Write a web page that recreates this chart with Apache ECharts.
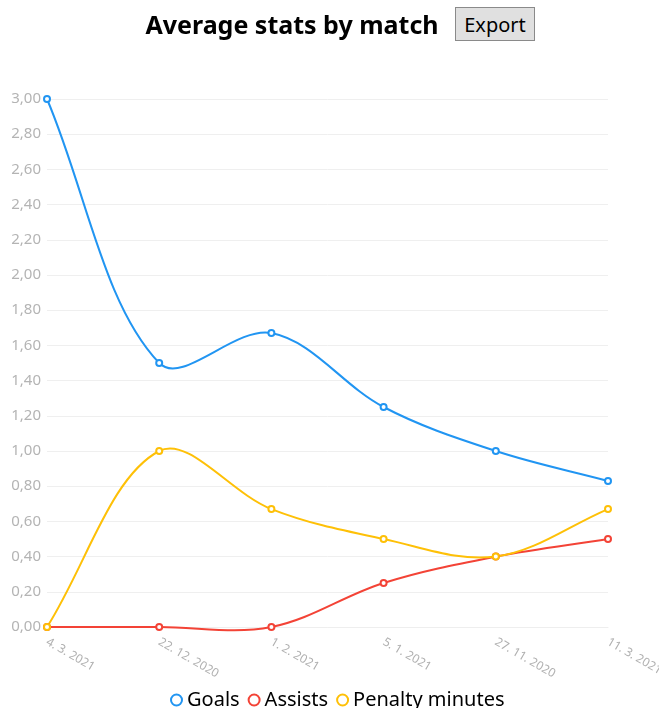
<!DOCTYPE html>
<html lang="en">
<head>
    <meta charset="UTF-8">
    <title>Average stats by match</title>
    <style>
        body { margin: 0; font-family: "Noto Sans", sans-serif; }
        #main { width: 659px; height: 708px; }
        #export {
            position: absolute; left: 455px; top: 7px; width: 80px; height: 34px;
            background: #e0e0e0; border: 1px solid #8a8a8a; border-radius: 0;
            font-family: "Noto Sans", sans-serif; font-size: 20px; color: #000; padding: 0;
        }
    </style>
</head>
<body>
    <div id="main"></div>
    <button id="export">Export</button>
    <script src="https://cdn.jsdelivr.net/npm/echarts@6/dist/echarts.min.js"></script>
    <script type="text/javascript">
        var dates = ['4. 3. 2021', '22. 12. 2020', '1. 2. 2021', '5. 1. 2021', '27. 11. 2020', '11. 3. 2021'];
        var goals = [3.00, 1.50, 1.67, 1.25, 1.00, 0.83];
        var assists = [0.00, 0.00, 0.00, 0.25, 0.40, 0.50];
        var penaltyMinutes = [0.00, 1.00, 0.67, 0.50, 0.40, 0.67];
        var colors = ['#2195f2', '#f34336', '#fec007'];
        var smoothness = 0.7;

        var myChart = echarts.init(document.getElementById('main'));

        // bezier control points for segment p1 -> p2 (midpoint method, weighted by segment length)
        function bezierCtrl(p0, p1, p2, p3) {
            var xc1 = (p0[0] + p1[0]) / 2, yc1 = (p0[1] + p1[1]) / 2;
            var xc2 = (p1[0] + p2[0]) / 2, yc2 = (p1[1] + p2[1]) / 2;
            var xc3 = (p2[0] + p3[0]) / 2, yc3 = (p2[1] + p3[1]) / 2;
            var len1 = Math.hypot(p1[0] - p0[0], p1[1] - p0[1]);
            var len2 = Math.hypot(p2[0] - p1[0], p2[1] - p1[1]);
            var len3 = Math.hypot(p3[0] - p2[0], p3[1] - p2[1]);
            var k1 = (len1 + len2) ? len1 / (len1 + len2) : 0;
            var k2 = (len2 + len3) ? len2 / (len2 + len3) : 0;
            var xm1 = xc1 + (xc2 - xc1) * k1, ym1 = yc1 + (yc2 - yc1) * k1;
            var xm2 = xc2 + (xc3 - xc2) * k2, ym2 = yc2 + (yc3 - yc2) * k2;
            return [
                p1[0] + (xc2 - xm1) * smoothness, p1[1] + (yc2 - ym1) * smoothness,
                p2[0] + (xc2 - xm2) * smoothness, p2[1] + (yc2 - ym2) * smoothness
            ];
        }

        function curveSeries(name, data, color) {
            return {
                name: name,
                type: 'custom',
                data: data,
                z: 2,
                renderItem: function (params, api) {
                    var i = params.dataIndex;
                    var n = data.length;
                    if (i >= n - 1) return;
                    function pt(k) {
                        k = Math.max(0, Math.min(n - 1, k));
                        return api.coord([k, data[k]]);
                    }
                    var p1 = pt(i), p2 = pt(i + 1);
                    var c = bezierCtrl(pt(i - 1), p1, p2, pt(i + 2));
                    return {
                        type: 'bezierCurve',
                        shape: {
                            x1: p1[0], y1: p1[1], x2: p2[0], y2: p2[1],
                            cpx1: c[0], cpy1: c[1], cpx2: c[2], cpy2: c[3]
                        },
                        style: { stroke: color, lineWidth: 2, fill: null }
                    };
                }
            };
        }

        function pointSeries(name, data) {
            return {
                name: name,
                type: 'line',
                symbol: 'emptyCircle',
                symbolSize: 6,
                z: 3,
                lineStyle: { width: 0, opacity: 0 },
                data: data
            };
        }

        var option = {
            animation: false,
            color: colors,
            title: {
                text: 'Average stats by match',
                left: 287,
                textAlign: 'center',
                top: 9,
                textStyle: { fontFamily: 'Noto Sans', fontSize: 25, fontWeight: 'bold', color: '#000' }
            },
            legend: {
                top: 685,
                left: 165,
                icon: 'emptyCircle',
                itemWidth: 11,
                itemHeight: 11,
                itemGap: 8,
                itemStyle: { borderWidth: 2 },
                textStyle: { fontFamily: 'Noto Sans', fontSize: 20, color: '#000' },
                data: ['Goals', 'Assists', 'Penalty minutes']
            },
            grid: { left: 47, right: 51, top: 99, bottom: 81, containLabel: false, outerBoundsMode: 'none' },
            xAxis: {
                type: 'category',
                boundaryGap: false,
                data: dates,
                axisLine: { show: true, lineStyle: { color: '#eeeeee' } },
                axisTick: { show: false },
                axisLabel: {
                    rotate: -30,
                    color: '#b0b0b0',
                    fontFamily: 'Noto Sans',
                    fontSize: 12,
                    margin: 14,
                    interval: 0
                }
            },
            yAxis: {
                type: 'value',
                min: 0,
                max: 3,
                interval: 0.2,
                axisLine: { show: false },
                axisTick: { show: false },
                splitLine: { lineStyle: { color: '#efefef' } },
                axisLabel: {
                    color: '#b4b4b4',
                    fontFamily: 'Noto Sans',
                    fontSize: 15,
                    margin: 6,
                    formatter: function (v) { return v.toFixed(2).replace('.', ','); }
                }
            },
            series: [
                curveSeries('Goals', goals, colors[0]),
                pointSeries('Goals', goals),
                curveSeries('Assists', assists, colors[1]),
                pointSeries('Assists', assists),
                curveSeries('Penalty minutes', penaltyMinutes, colors[2]),
                pointSeries('Penalty minutes', penaltyMinutes)
            ]
        };
        myChart.setOption(option);
    </script>
</body>
</html>
